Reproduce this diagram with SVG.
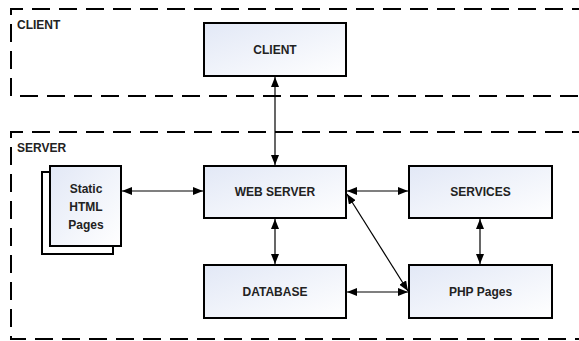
<svg xmlns="http://www.w3.org/2000/svg" width="579" height="341" viewBox="0 0 579 341">
<defs>
<linearGradient id="g" x1="0" y1="0" x2="1" y2="1">
<stop offset="0" stop-color="#e2e8f6"/>
<stop offset="1" stop-color="#ffffff"/>
</linearGradient>
<marker id="ah" viewBox="0 0 10 8" refX="10" refY="4" markerWidth="10" markerHeight="8" markerUnits="userSpaceOnUse" orient="auto-start-reverse">
<path d="M0,0 L10,4 L0,8 Z" fill="#000"/>
</marker>
<style>
.cont{fill:none;stroke:#000;stroke-width:2;stroke-dasharray:18 9}
.box{fill:url(#g);stroke:#000;stroke-width:2}
.lbl{font-family:"Liberation Sans",Arial,sans-serif;font-weight:bold;font-size:12px;fill:#222}
.c{text-anchor:middle;dominant-baseline:central}
.con{stroke:#000;stroke-width:1.2;fill:none;marker-start:url(#ah);marker-end:url(#ah)}
</style>
</defs>
<g id="client-zone">
<path class="cont" d="M590,9 H11 V96 H590"/>
<text class="lbl" x="17" y="29">CLIENT</text>
</g>
<g id="server-zone">
<path class="cont" d="M590,132 H11 V339 H590"/>
<text class="lbl" x="17" y="152">SERVER</text>
</g>
<g id="client">
<rect class="box" x="204" y="23" width="142" height="53"/>
<text class="lbl c" x="275" y="49.5">CLIENT</text>
</g>
<g id="static-html">
<rect x="42" y="172" width="71" height="82" fill="#fff" stroke="#000" stroke-width="2"/>
<rect class="box" x="50" y="166" width="71" height="80"/>
<text class="lbl c" x="86" y="189">Static</text>
<text class="lbl c" x="86" y="207">HTML</text>
<text class="lbl c" x="86" y="225">Pages</text>
</g>
<g id="web-server">
<rect class="box" x="204" y="166" width="142" height="52"/>
<text class="lbl c" x="275" y="192">WEB SERVER</text>
</g>
<g id="services">
<rect class="box" x="409" y="166" width="143" height="52"/>
<text class="lbl c" x="480.5" y="192">SERVICES</text>
</g>
<g id="database">
<rect class="box" x="204" y="265" width="142" height="53"/>
<text class="lbl c" x="275" y="291.5">DATABASE</text>
</g>
<g id="php-pages">
<rect class="box" x="409" y="265" width="143" height="53"/>
<text class="lbl c" x="480.5" y="291.5">PHP Pages</text>
</g>
<g id="connectors">
<line class="con" x1="275" y1="77" x2="275" y2="165"/>
<line class="con" x1="122" y1="191" x2="203" y2="191"/>
<line class="con" x1="347" y1="191" x2="408" y2="191"/>
<line class="con" x1="275" y1="219" x2="275" y2="264"/>
<line class="con" x1="480" y1="219" x2="480" y2="264"/>
<line class="con" x1="347" y1="292" x2="408" y2="292"/>
<line class="con" x1="347" y1="194" x2="408" y2="291"/>
</g>
</svg>
